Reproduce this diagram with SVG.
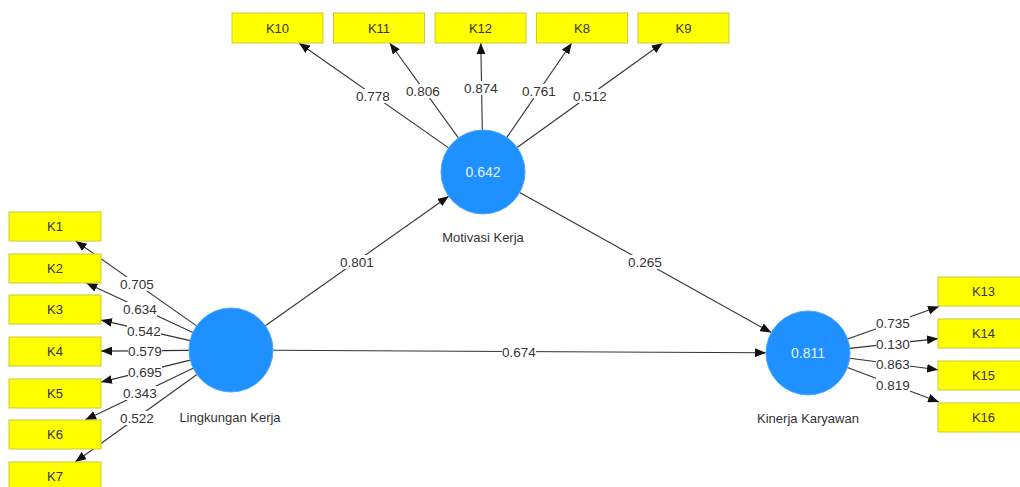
<svg xmlns="http://www.w3.org/2000/svg" width="1020" height="487" viewBox="0 0 1020 487">
<defs>
<style>
.ind{fill:#ffff00;stroke:#c9c93a;stroke-width:1}
.it{font-family:"Liberation Sans",Arial,sans-serif;font-size:13px;fill:#333;text-anchor:middle;dominant-baseline:central}
.lv{fill:#1e90ff;stroke:#4aa6ff;stroke-width:1}
.lvv{font-family:"Liberation Sans",Arial,sans-serif;font-size:14px;fill:#e6f3ff;text-anchor:middle;dominant-baseline:central}
.lvn{font-family:"Liberation Sans",Arial,sans-serif;font-size:13px;fill:#333;text-anchor:middle;dominant-baseline:central}
.c{stroke:#333;stroke-width:1.1;fill:none;marker-end:url(#ah)}
.bg{fill:#fff}
.lb{font-family:"Liberation Sans",Arial,sans-serif;font-size:13.5px;fill:#333;text-anchor:middle;dominant-baseline:central}
</style>
<marker id="ah" viewBox="0 0 10 8" refX="10" refY="4" markerWidth="11" markerHeight="9" markerUnits="userSpaceOnUse" orient="auto">
<path d="M0,0 L10,4 L0,8 z" fill="#111"/>
</marker>
</defs>
<rect width="1020" height="487" fill="#fff"/>

<g id="connectors">
<line class="c" x1="196.6" y1="325.9" x2="75.7" y2="241"/>
<line class="c" x1="192.9" y1="332.4" x2="86.3" y2="283"/>
<line class="c" x1="190.1" y1="340.6" x2="101" y2="320.1"/>
<line class="c" x1="189" y1="350.4" x2="101" y2="351.1"/>
<line class="c" x1="190.2" y1="360.1" x2="101" y2="382.1"/>
<line class="c" x1="193.1" y1="368.2" x2="85.2" y2="420"/>
<line class="c" x1="196.9" y1="374.5" x2="75.2" y2="462"/>
<line class="c" x1="448.6" y1="147.9" x2="298.9" y2="43"/>
<line class="c" x1="458.4" y1="137.9" x2="389.8" y2="43"/>
<line class="c" x1="482.3" y1="130" x2="480.8" y2="43"/>
<line class="c" x1="506.8" y1="137.4" x2="571.7" y2="43"/>
<line class="c" x1="517.1" y1="147.5" x2="662.6" y2="43"/>
<line class="c" x1="847.6" y1="339.1" x2="939" y2="306.5"/>
<line class="c" x1="849.7" y1="348.4" x2="938" y2="338.6"/>
<line class="c" x1="849.7" y1="358.3" x2="938" y2="369.7"/>
<line class="c" x1="847.4" y1="367.5" x2="939" y2="402"/>
<line class="c" x1="265.3" y1="325.8" x2="448.7" y2="196.2"/>
<line class="c" x1="273" y1="350.2" x2="766" y2="352.8"/>
<line class="c" x1="519.7" y1="192.4" x2="771.3" y2="332.6"/>
<g id="labels">
<rect class="bg" x="120" y="277" width="34" height="14"/><text class="lb" x="137" y="284">0.705</text>
<rect class="bg" x="123" y="302" width="34" height="14"/><text class="lb" x="140" y="309">0.634</text>
<rect class="bg" x="127" y="324" width="34" height="14"/><text class="lb" x="144" y="331">0.542</text>
<rect class="bg" x="128" y="344" width="34" height="14"/><text class="lb" x="145" y="351">0.579</text>
<rect class="bg" x="128" y="365" width="34" height="14"/><text class="lb" x="145" y="372">0.695</text>
<rect class="bg" x="123" y="386" width="34" height="14"/><text class="lb" x="140" y="393">0.343</text>
<rect class="bg" x="120" y="411" width="34" height="14"/><text class="lb" x="137" y="418">0.522</text>
<rect class="bg" x="356" y="89" width="34" height="14"/><text class="lb" x="373" y="96">0.778</text>
<rect class="bg" x="406" y="84" width="34" height="14"/><text class="lb" x="423" y="91">0.806</text>
<rect class="bg" x="464" y="81" width="34" height="14"/><text class="lb" x="481" y="88">0.874</text>
<rect class="bg" x="522" y="84" width="34" height="14"/><text class="lb" x="539" y="91">0.761</text>
<rect class="bg" x="573" y="89" width="34" height="14"/><text class="lb" x="590" y="96">0.512</text>
<rect class="bg" x="876" y="316" width="34" height="14"/><text class="lb" x="893" y="323">0.735</text>
<rect class="bg" x="876" y="337" width="34" height="14"/><text class="lb" x="893" y="344">0.130</text>
<rect class="bg" x="876" y="357" width="34" height="14"/><text class="lb" x="893" y="364">0.863</text>
<rect class="bg" x="876" y="378" width="34" height="14"/><text class="lb" x="893" y="385">0.819</text>
<rect class="bg" x="340" y="255" width="34" height="14"/><text class="lb" x="357" y="262">0.801</text>
<rect class="bg" x="502" y="345" width="34" height="14"/><text class="lb" x="519" y="352">0.674</text>
<rect class="bg" x="628" y="255" width="34" height="14"/><text class="lb" x="645" y="262">0.265</text>
</g>
</g>

<g id="lingkungan-kerja">
<circle class="lv" cx="231" cy="350" r="42"/>
<text class="lvn" x="230" y="417">Lingkungan Kerja</text>
</g>
<g id="motivasi-kerja">
<circle class="lv" cx="483" cy="172" r="42"/>
<text class="lvv" x="483" y="172">0.642</text>
<text class="lvn" x="483" y="237">Motivasi Kerja</text>
</g>
<g id="kinerja-karyawan">
<circle class="lv" cx="808" cy="353" r="42"/>
<text class="lvv" x="808" y="353">0.811</text>
<text class="lvn" x="808" y="418">Kinerja Karyawan</text>
</g>

<g id="K1"><rect class="ind" x="9" y="212" width="92" height="29"/><text class="it" x="55" y="226.5">K1</text></g>
<g id="K2"><rect class="ind" x="9" y="254" width="92" height="29"/><text class="it" x="55" y="268.5">K2</text></g>
<g id="K3"><rect class="ind" x="9" y="295" width="92" height="29"/><text class="it" x="55" y="309.5">K3</text></g>
<g id="K4"><rect class="ind" x="9" y="337" width="92" height="29"/><text class="it" x="55" y="351.5">K4</text></g>
<g id="K5"><rect class="ind" x="9" y="379" width="92" height="29"/><text class="it" x="55" y="393.5">K5</text></g>
<g id="K6"><rect class="ind" x="9" y="420" width="92" height="29"/><text class="it" x="55" y="434.5">K6</text></g>
<g id="K7"><rect class="ind" x="9" y="462" width="92" height="29"/><text class="it" x="55" y="476.5">K7</text></g>

<g id="K10"><rect class="ind" x="232" y="13" width="91" height="30"/><text class="it" x="277.5" y="28">K10</text></g>
<g id="K11"><rect class="ind" x="333.5" y="13" width="91" height="30"/><text class="it" x="379" y="28">K11</text></g>
<g id="K12"><rect class="ind" x="435" y="13" width="91" height="30"/><text class="it" x="480.5" y="28">K12</text></g>
<g id="K8"><rect class="ind" x="536.5" y="13" width="91" height="30"/><text class="it" x="582" y="28">K8</text></g>
<g id="K9"><rect class="ind" x="638" y="13" width="91" height="30"/><text class="it" x="683.5" y="28">K9</text></g>

<g id="K13"><rect class="ind" x="938" y="277" width="91" height="29"/><text class="it" x="983.5" y="291.5">K13</text></g>
<g id="K14"><rect class="ind" x="938" y="319" width="91" height="29"/><text class="it" x="983.5" y="333.5">K14</text></g>
<g id="K15"><rect class="ind" x="938" y="361" width="91" height="29"/><text class="it" x="983.5" y="375.5">K15</text></g>
<g id="K16"><rect class="ind" x="938" y="403" width="91" height="29"/><text class="it" x="983.5" y="417.5">K16</text></g>
</svg>
